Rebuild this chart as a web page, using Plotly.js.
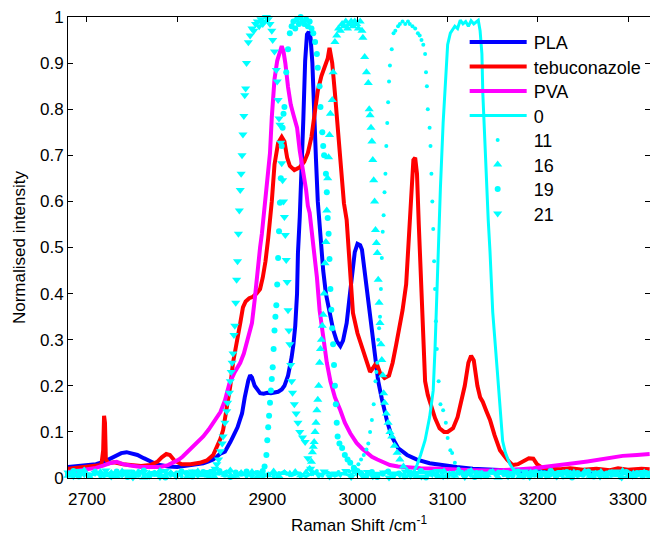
<!DOCTYPE html>
<html><head><meta charset="utf-8">
<script src="https://cdn.plot.ly/plotly-3.0.1.min.js"></script>
<style>html,body{margin:0;padding:0;background:#fff}#chart{width:650px;height:535px}</style>
</head><body><div id="chart"></div>
<script>
// ---- categories / labels ----
const seriesNames = ['PLA','tebuconazole','PVA','0','11','16','19','21'];
const xTickVals = [2700,2800,2900,3000,3100,3200,3300];
const yTickVals = [0,0.1,0.2,0.3,0.4,0.5,0.6,0.7,0.8,0.9,1];
const yTickText = ['0','0.1','0.2','0.3','0.4','0.5','0.6','0.7','0.8','0.9','1'];

// ---- spectra: [Raman shift, normalised intensity] ----
const pla = [[2679,0.024],[2690,0.026],[2700,0.027],[2710,0.03],[2720,0.036],[2727,0.043],[2733,0.05],[2738,0.054],[2744,0.056],[2750,0.053],[2756,0.05],[2763,0.043],[2770,0.036],[2776,0.031],[2781,0.028],[2790,0.025],[2800,0.024],[2810,0.026],[2818,0.028],[2824,0.03],[2829,0.032],[2835,0.036],[2840,0.04],[2844,0.046],[2848,0.053],[2853,0.057],[2856,0.066],[2859,0.078],[2862,0.09],[2865,0.1],[2867,0.11],[2870,0.128],[2872,0.14],[2875,0.175],[2877,0.198],[2879,0.212],[2881,0.223],[2883,0.218],[2886,0.2],[2889,0.19],[2892,0.184],[2896,0.183],[2900,0.185],[2904,0.184],[2908,0.186],[2912,0.187],[2916,0.192],[2919,0.2],[2923,0.222],[2925,0.24],[2927,0.262],[2929,0.29],[2931,0.33],[2933,0.4],[2934,0.488],[2936,0.566],[2938,0.653],[2940,0.78],[2942,0.905],[2944,0.962],[2946,0.968],[2948,0.955],[2950,0.9],[2951,0.83],[2952,0.78],[2954,0.69],[2956,0.6],[2958,0.54],[2960,0.49],[2962,0.45],[2965,0.4],[2968,0.368],[2970,0.352],[2973,0.322],[2977,0.297],[2981,0.286],[2984,0.298],[2988,0.336],[2992,0.405],[2995,0.458],[2997,0.49],[3000,0.508],[3003,0.505],[3005,0.495],[3008,0.445],[3012,0.38],[3016,0.314],[3019,0.262],[3023,0.21],[3027,0.172],[3030,0.145],[3033,0.122],[3038,0.09],[3045,0.065],[3055,0.05],[3066,0.04],[3080,0.032],[3092,0.028],[3110,0.024],[3128,0.02],[3155,0.017],[3180,0.015],[3210,0.014],[3240,0.013],[3270,0.012],[3300,0.012],[3324,0.011]];

const tebuconazole = [[2679,0.02],[2690,0.022],[2700,0.024],[2710,0.026],[2716,0.028],[2718,0.06],[2719,0.135],[2720,0.12],[2721,0.04],[2724,0.032],[2730,0.034],[2740,0.03],[2750,0.028],[2760,0.026],[2770,0.028],[2778,0.035],[2783,0.045],[2788,0.052],[2792,0.05],[2797,0.038],[2805,0.03],[2815,0.03],[2825,0.033],[2833,0.038],[2840,0.05],[2844,0.066],[2848,0.085],[2851,0.104],[2854,0.14],[2856,0.17],[2859,0.2],[2862,0.25],[2866,0.3],[2870,0.336],[2873,0.37],[2876,0.383],[2880,0.39],[2884,0.393],[2888,0.4],[2892,0.41],[2895,0.435],[2898,0.47],[2901,0.52],[2903,0.575],[2905,0.6],[2908,0.68],[2912,0.727],[2916,0.74],[2919,0.73],[2922,0.695],[2925,0.677],[2930,0.668],[2936,0.674],[2941,0.686],[2945,0.705],[2949,0.74],[2953,0.8],[2956,0.84],[2960,0.872],[2964,0.895],[2967,0.91],[2969,0.933],[2970,0.925],[2972,0.9],[2975,0.835],[2978,0.76],[2980,0.705],[2983,0.653],[2985,0.596],[2988,0.56],[2990,0.495],[2992,0.423],[2995,0.358],[3000,0.314],[3006,0.278],[3011,0.242],[3014,0.23],[3017,0.238],[3021,0.25],[3025,0.228],[3030,0.217],[3035,0.222],[3039,0.25],[3043,0.29],[3047,0.328],[3050,0.364],[3054,0.42],[3057,0.53],[3060,0.6],[3062,0.69],[3064,0.695],[3066,0.66],[3068,0.55],[3070,0.44],[3072,0.33],[3075,0.21],[3078,0.18],[3081,0.16],[3086,0.13],[3091,0.108],[3096,0.1],[3100,0.1],[3106,0.108],[3111,0.132],[3116,0.17],[3119,0.2],[3123,0.25],[3126,0.265],[3129,0.255],[3133,0.2],[3136,0.175],[3139,0.165],[3143,0.145],[3147,0.126],[3152,0.093],[3158,0.06],[3166,0.04],[3172,0.028],[3178,0.03],[3184,0.036],[3190,0.043],[3195,0.042],[3199,0.03],[3205,0.022],[3212,0.02],[3225,0.019],[3236,0.021],[3250,0.018],[3265,0.02],[3280,0.017],[3289,0.021],[3300,0.018],[3315,0.02],[3324,0.019]];

const pva = [[2679,0.013],[2690,0.016],[2700,0.019],[2710,0.022],[2718,0.027],[2725,0.032],[2733,0.035],[2740,0.03],[2748,0.027],[2760,0.024],[2770,0.024],[2781,0.024],[2790,0.028],[2796,0.033],[2802,0.04],[2806,0.046],[2812,0.057],[2818,0.07],[2823,0.08],[2829,0.09],[2835,0.105],[2840,0.12],[2844,0.13],[2848,0.143],[2853,0.168],[2858,0.205],[2864,0.23],[2870,0.25],[2874,0.27],[2877,0.293],[2880,0.315],[2883,0.336],[2886,0.386],[2889,0.45],[2892,0.5],[2894,0.53],[2896,0.57],[2899,0.62],[2901,0.66],[2903,0.705],[2905,0.783],[2908,0.865],[2911,0.905],[2913,0.92],[2916,0.937],[2918,0.925],[2920,0.9],[2923,0.848],[2926,0.81],[2929,0.788],[2933,0.76],[2936,0.71],[2940,0.665],[2943,0.625],[2945,0.59],[2947,0.575],[2951,0.505],[2955,0.436],[2958,0.364],[2962,0.3],[2966,0.25],[2970,0.21],[2975,0.175],[2981,0.147],[2986,0.12],[2992,0.097],[2999,0.076],[3005,0.064],[3011,0.054],[3016,0.046],[3022,0.04],[3029,0.033],[3036,0.028],[3045,0.025],[3055,0.023],[3070,0.021],[3092,0.02],[3110,0.018],[3128,0.017],[3150,0.016],[3166,0.017],[3180,0.019],[3195,0.021],[3210,0.024],[3225,0.028],[3240,0.032],[3255,0.036],[3269,0.04],[3282,0.044],[3294,0.048],[3310,0.05],[3324,0.052]];

const filter0 = [[2679,0.012],[2687,0.006],[2695,0.014],[2703,0.004],[2711,0.011],[2719,0.003],[2727,0.013],[2735,0.006],[2743,0.01],[2751,0.002],[2759,0.012],[2767,0.007],[2775,0.014],[2783,0.005],[2791,0.01],[2799,0.003],[2807,0.012],[2815,0.006],[2823,0.013],[2831,0.004],[2839,0.01],[2847,0.008],[2855,0.015],[2863,0.003],[2871,0.011],[2879,0.006],[2887,0.013],[2895,0.002],[2903,0.01],[2911,0.007],[2919,0.014],[2927,0.005],[2935,0.011],[2943,0.003],[2951,0.012],[2959,0.008],[2967,0.013],[2975,0.004],[2983,0.01],[2991,0.006],[2999,0.014],[3007,0.002],[3015,0.011],[3023,0.007],[3031,0.013],[3039,0.005],[3047,0.01],[3055,0.003],[3062,0.012],[3066,0.028],[3070,0.05],[3075,0.082],[3080,0.132],[3082,0.16],[3084,0.19],[3086,0.28],[3088,0.41],[3090,0.54],[3092,0.63],[3095,0.77],[3098,0.87],[3100,0.94],[3103,0.965],[3105,0.972],[3108,0.98],[3111,0.975],[3114,0.993],[3117,0.985],[3120,0.99],[3123,0.98],[3126,0.992],[3129,0.985],[3132,0.99],[3134,0.993],[3136,0.97],[3138,0.92],[3139,0.835],[3141,0.74],[3143,0.64],[3145,0.56],[3147,0.49],[3150,0.36],[3155,0.234],[3159,0.126],[3161,0.08],[3164,0.055],[3169,0.03],[3174,0.015],[3180,0.006],[3188,0.013],[3196,0.004],[3204,0.011],[3212,0.002],[3220,0.012],[3228,0.007],[3236,0.014],[3244,0.003],[3252,0.01],[3260,0.006],[3268,0.013],[3276,0.004],[3284,0.011],[3292,0.007],[3300,0.014],[3308,0.002],[3316,0.01],[3324,0.006]];

const filter11 = [[2679,0.009],[2685,0.014],[2691,0.004],[2697,0.011],[2703,0.007],[2709,0.016],[2715,0.002],[2721,0.012],[2727,0.008],[2733,0.005],[2739,0.013],[2745,0.01],[2751,0.003],[2757,0.015],[2763,0.006],[2769,0.011],[2775,0.009],[2781,0.001],[2787,0.013],[2793,0.007],[2799,0.012],[2805,0.004],[2811,0.01],[2817,0.014],[2823,0.006],[2829,0.011],[2835,0.002],[2841,0.009],[2847,0.013],[2853,0.008],[2859,0.015],[2865,0.005],[2871,0.01],[2877,0.003],[2883,0.012],[2889,0.007],[2895,0.014],[2901,0.009],[2907,0.004],[2913,0.011],[2919,0.013],[2925,0.006],[2931,0.01],[2937,0.002],[2943,0.012],[2949,0.008],[2955,0.015],[2961,0.005],[2967,0.011],[2973,0.007],[2979,0.013],[2985,0.01],[2991,0.014],[2995,0.016],[2998,0.02],[3001,0.03],[3004,0.04],[3007,0.05],[3010,0.062],[3012,0.075],[3014,0.1],[3016,0.126],[3018,0.16],[3020,0.21],[3021,0.23],[3022,0.25],[3023,0.3],[3024,0.325],[3025,0.35],[3026,0.41],[3027,0.477],[3028,0.534],[3029,0.57],[3030,0.62],[3031,0.66],[3032,0.72],[3033,0.77],[3034,0.815],[3035,0.86],[3036,0.895],[3038,0.93],[3040,0.965],[3042,0.97],[3045,0.98],[3047,0.985],[3050,0.99],[3053,0.985],[3056,0.99],[3058,0.985],[3061,0.98],[3064,0.975],[3067,0.965],[3069,0.96],[3071,0.95],[3073,0.94],[3075,0.92],[3076,0.88],[3077,0.85],[3078,0.8],[3080,0.76],[3081,0.72],[3082,0.66],[3083,0.6],[3084,0.54],[3085,0.47],[3086,0.41],[3087,0.34],[3088,0.28],[3090,0.21],[3092,0.16],[3095,0.147],[3098,0.12],[3100,0.087],[3103,0.06],[3105,0.054],[3108,0.033],[3112,0.02],[3116,0.012],[3120,0.01],[3126,0.005],[3132,0.013],[3138,0.008],[3144,0.002],[3150,0.011],[3156,0.014],[3162,0.006],[3168,0.009],[3174,0.012],[3180,0.003],[3186,0.01],[3192,0.007],[3198,0.015],[3204,0.004],[3210,0.011],[3216,0.008],[3222,0.013],[3228,0.001],[3234,0.009],[3240,0.012],[3246,0.006],[3252,0.014],[3258,0.003],[3264,0.01],[3270,0.007],[3276,0.012],[3282,0.005],[3288,0.011],[3294,0.009],[3300,0.013],[3306,0.002],[3312,0.01],[3318,0.006],[3324,0.012]];

const filter16 = [[2679,0.005],[2685,0.012],[2691,0.008],[2697,0.016],[2703,0.002],[2709,0.01],[2715,0.013],[2721,0.006],[2727,0.011],[2733,0.003],[2739,0.014],[2745,0.009],[2751,0.005],[2757,0.012],[2763,0.001],[2769,0.01],[2775,0.007],[2781,0.015],[2787,0.004],[2793,0.011],[2799,0.008],[2805,0.013],[2811,0.002],[2817,0.009],[2823,0.014],[2829,0.006],[2835,0.01],[2841,0.003],[2847,0.012],[2853,0.007],[2859,0.016],[2865,0.005],[2871,0.011],[2877,0.008],[2883,0.013],[2889,0.002],[2895,0.01],[2901,0.006],[2907,0.014],[2913,0.004],[2919,0.011],[2925,0.009],[2931,0.013],[2937,0.006],[2943,0.012],[2947,0.02],[2949,0.035],[2950,0.056],[2951,0.068],[2952,0.078],[2953,0.1],[2954,0.12],[2955,0.147],[2956,0.17],[2957,0.2],[2958,0.25],[2959,0.28],[2960,0.3],[2961,0.33],[2962,0.354],[2963,0.4],[2964,0.466],[2965,0.512],[2966,0.58],[2967,0.65],[2968,0.696],[2969,0.744],[2970,0.79],[2972,0.82],[2973,0.88],[2975,0.946],[2977,0.96],[2979,0.975],[2981,0.97],[2983,0.985],[2985,0.98],[2987,0.99],[2989,0.975],[2991,0.985],[2993,0.99],[2995,0.98],[2997,0.99],[2999,0.985],[3001,0.975],[3003,0.99],[3005,0.97],[3006,0.955],[3008,0.913],[3010,0.88],[3012,0.857],[3013,0.8],[3014,0.787],[3015,0.76],[3016,0.73],[3017,0.69],[3018,0.646],[3019,0.6],[3020,0.538],[3021,0.51],[3022,0.488],[3023,0.43],[3024,0.38],[3025,0.336],[3026,0.29],[3027,0.256],[3028,0.223],[3029,0.184],[3030,0.163],[3032,0.14],[3034,0.12],[3036,0.1],[3038,0.09],[3041,0.07],[3044,0.055],[3047,0.04],[3051,0.025],[3055,0.015],[3060,0.01],[3066,0.004],[3072,0.013],[3078,0.007],[3084,0.011],[3090,0.002],[3096,0.014],[3102,0.008],[3108,0.005],[3114,0.012],[3120,0.009],[3126,0.015],[3132,0.003],[3138,0.01],[3144,0.006],[3150,0.013],[3156,0.001],[3162,0.011],[3168,0.008],[3174,0.014],[3180,0.004],[3186,0.009],[3192,0.012],[3198,0.006],[3204,0.01],[3210,-0.002],[3216,0.013],[3222,0.007],[3228,0.011],[3234,0.003],[3240,0.012],[3246,0.008],[3252,0.014],[3258,0.005],[3264,0.009],[3270,0.013],[3276,0.002],[3282,0.011],[3288,0.006],[3294,0.015],[3300,0.004],[3306,0.01],[3312,0.008],[3318,0.012],[3324,0.005]];

const filter19 = [[2679,0.008],[2685,0.015],[2691,0.003],[2697,0.011],[2703,0.006],[2709,0.013],[2715,-0.001],[2721,0.01],[2727,0.005],[2733,0.014],[2739,0.008],[2745,0.002],[2751,0.012],[2757,0.007],[2763,0.016],[2769,0.004],[2775,0.01],[2781,0.013],[2787,0.001],[2793,0.009],[2799,0.006],[2805,0.014],[2811,0.011],[2817,0.003],[2823,0.008],[2829,0.013],[2835,0.005],[2841,0.01],[2847,0.015],[2853,0.007],[2859,0.002],[2865,0.012],[2871,0.009],[2877,0.014],[2883,0.006],[2889,0.011],[2893,0.01],[2895,0.015],[2897,0.025],[2899,0.05],[2900,0.082],[2901,0.11],[2902,0.135],[2903,0.163],[2904,0.19],[2905,0.215],[2906,0.24],[2907,0.28],[2908,0.32],[2909,0.35],[2910,0.375],[2911,0.42],[2912,0.477],[2913,0.535],[2914,0.597],[2915,0.65],[2916,0.72],[2917,0.76],[2918,0.79],[2919,0.805],[2921,0.88],[2923,0.93],[2925,0.965],[2927,0.98],[2929,0.99],[2931,0.975],[2933,0.995],[2935,0.985],[2937,1.0],[2939,0.99],[2941,0.985],[2943,0.995],[2945,0.98],[2947,0.99],[2949,0.975],[2951,0.965],[2953,0.946],[2955,0.92],[2956,0.89],[2958,0.85],[2959,0.805],[2961,0.75],[2962,0.72],[2963,0.7],[2965,0.66],[2966,0.62],[2967,0.564],[2968,0.53],[2969,0.475],[2970,0.41],[2971,0.365],[2972,0.325],[2973,0.29],[2974,0.245],[2975,0.2],[2976,0.16],[2977,0.12],[2978,0.09],[2980,0.075],[2983,0.065],[2986,0.05],[2989,0.04],[2992,0.033],[2996,0.022],[3000,0.015],[3004,0.011],[3010,0.005],[3016,0.013],[3022,0.002],[3028,0.009],[3034,0.014],[3040,0.006],[3046,0.01],[3052,0.003],[3058,0.012],[3064,0.008],[3070,0.015],[3076,0.001],[3082,0.011],[3088,0.006],[3094,0.013],[3100,0.004],[3106,0.009],[3112,0.012],[3118,0.007],[3124,0.014],[3130,0.002],[3136,0.01],[3142,0.005],[3148,0.013],[3154,0.008],[3160,-0.002],[3166,0.011],[3172,0.006],[3178,0.014],[3184,0.003],[3190,0.009],[3196,0.012],[3202,0.005],[3208,0.01],[3214,0.015],[3220,0.004],[3226,0.008],[3232,0.013],[3238,0.001],[3244,0.011],[3250,0.007],[3256,0.014],[3262,0.003],[3268,0.01],[3274,0.006],[3280,0.012],[3286,0.009],[3292,0.002],[3298,0.013],[3304,0.007],[3310,0.011],[3316,0.004],[3322,0.01]];

const filter21 = [[2679,0.012],[2685,0.004],[2691,0.015],[2697,0.008],[2703,-0.002],[2709,0.011],[2715,0.006],[2721,0.016],[2727,0.003],[2733,0.01],[2739,0.007],[2745,0.014],[2751,0.001],[2757,0.009],[2763,0.013],[2769,0.005],[2775,0.011],[2781,0.002],[2787,0.015],[2793,0.008],[2799,0.004],[2805,0.012],[2811,0.007],[2817,0.014],[2823,0.006],[2829,0.011],[2835,0.013],[2840,0.015],[2842,0.02],[2844,0.03],[2846,0.04],[2848,0.058],[2850,0.075],[2851,0.09],[2853,0.12],[2855,0.145],[2856,0.163],[2858,0.185],[2859,0.21],[2860,0.23],[2861,0.25],[2862,0.27],[2863,0.31],[2864,0.33],[2865,0.38],[2866,0.43],[2867,0.47],[2868,0.53],[2869,0.58],[2870,0.625],[2871,0.66],[2872,0.7],[2873,0.745],[2874,0.785],[2875,0.83],[2876,0.845],[2877,0.9],[2879,0.945],[2881,0.96],[2883,0.975],[2885,0.97],[2887,0.985],[2889,0.99],[2891,0.98],[2893,0.995],[2895,0.985],[2897,0.99],[2899,1.0],[2901,0.995],[2903,0.985],[2905,0.97],[2906,0.95],[2908,0.925],[2910,0.885],[2911,0.86],[2912,0.82],[2913,0.78],[2914,0.766],[2915,0.727],[2916,0.683],[2917,0.646],[2918,0.6],[2919,0.566],[2920,0.527],[2921,0.473],[2922,0.425],[2923,0.364],[2924,0.32],[2925,0.29],[2926,0.245],[2927,0.21],[2928,0.185],[2930,0.16],[2932,0.14],[2934,0.12],[2936,0.1],[2939,0.088],[2942,0.078],[2945,0.043],[2948,0.02],[2951,0.012],[2957,0.006],[2963,0.014],[2969,0.003],[2975,0.01],[2981,0.008],[2987,0.015],[2993,0.002],[2999,0.011],[3005,0.006],[3011,0.013],[3017,0.004],[3023,0.009],[3029,0.012],[3035,0.001],[3041,0.01],[3047,0.007],[3053,0.014],[3059,0.005],[3065,0.011],[3071,0.003],[3077,0.012],[3083,0.008],[3089,0.015],[3095,0.004],[3101,0.01],[3107,0.006],[3113,0.013],[3119,0.002],[3125,0.009],[3131,0.012],[3137,0.005],[3143,0.01],[3149,-0.003],[3155,0.008],[3161,0.013],[3167,0.004],[3173,0.011],[3179,0.007],[3185,0.014],[3191,0.002],[3197,0.009],[3203,0.012],[3209,0.005],[3215,0.01],[3221,0.003],[3227,0.013],[3233,0.007],[3239,0.011],[3245,-0.004],[3251,0.009],[3257,0.006],[3263,0.012],[3269,0.003],[3275,0.01],[3281,0.008],[3287,0.014],[3293,0.001],[3299,0.011],[3305,0.005],[3311,0.009],[3317,0.013],[3323,0.006]];

// ---- build traces ----
const FONT = 'Liberation Sans, Arial, sans-serif';
const xs = d => d.map(p => p[0]);
const ys = d => d.map(p => p[1]);

function lineTrace(d, name, color, width) {
  return {x: xs(d), y: ys(d), name: name, type: 'scatter', mode: 'lines',
          line: {color: color, width: width}};
}
function markerTrace(d, name, symbol, size) {
  return {x: xs(d), y: ys(d), name: name, type: 'scatter', mode: 'markers',
          cliponaxis: false,
          marker: {color: '#00ffff', symbol: symbol, size: size, line: {width: 0}}};
}

const traces = [
  lineTrace(pla, seriesNames[0], '#0000ff', 4),
  lineTrace(tebuconazole, seriesNames[1], '#ff0000', 4),
  lineTrace(pva, seriesNames[2], '#ff00ff', 4),
  lineTrace(filter0, seriesNames[3], '#00ffff', 3),
  markerTrace(filter11, seriesNames[4], 'circle', 4),
  markerTrace(filter16, seriesNames[5], 'triangle-up', 8),
  markerTrace(filter19, seriesNames[6], 'circle', 6),
  markerTrace(filter21, seriesNames[7], 'triangle-down', 8)
];

const axisCommon = {
  showline: true, linecolor: '#000', linewidth: 1, mirror: 'ticks',
  ticks: 'inside', ticklen: 5, tickwidth: 1, tickcolor: '#000',
  showgrid: false, zeroline: false,
  tickfont: {family: FONT, size: 17, color: '#000'}
};

const layout = {
  width: 650, height: 535,
  margin: {l: 68, r: 0, t: 17, b: 57, pad: 0},
  paper_bgcolor: '#fff', plot_bgcolor: '#fff',
  showlegend: true,
  hovermode: false,
  xaxis: Object.assign({}, axisCommon, {
    range: [2679, 3324.4], tickmode: 'array', tickvals: xTickVals,
    ticklabelstandoff: 6,
    title: {text: 'Raman Shift /cm<sup>-1</sup>', font: {family: FONT, size: 17, color: '#000'}, standoff: 13}
  }),
  yaxis: Object.assign({}, axisCommon, {
    range: [0, 1], tickmode: 'array', tickvals: yTickVals, ticktext: yTickText,
    title: {text: 'Normalised intensity', font: {family: FONT, size: 17, color: '#000'}, standoff: 10}
  }),
  legend: {
    x: 0.685, xanchor: 'left', y: 0.985, yanchor: 'top',
    bgcolor: 'rgba(0,0,0,0)', borderwidth: 0,
    font: {family: FONT, size: 18, color: '#000'},
    itemwidth: 57, tracegroupgap: 0
  }
};

Plotly.newPlot('chart', traces, layout, {staticPlot: true, displayModeBar: false}).then(gd => {
  // MATLAB-style legend: longer line samples, centred symbols, tighter rows
  const items = gd.querySelectorAll('.legend .traces');
  let x0 = null, y0 = null;
  items.forEach((t, i) => {
    const m = /translate\(\s*([-\d.e]+)[\s,]+([-\d.e]+)\s*\)/.exec(t.getAttribute('transform') || '');
    if (m) {
      if (x0 === null) { x0 = parseFloat(m[1]); y0 = parseFloat(m[2]); }
      t.setAttribute('transform', 'translate(' + x0 + ',' + (y0 + i * 24.5) + ')');
    }
    t.querySelectorAll('.legendlines path').forEach(p => p.setAttribute('d', 'M3,0h57'));
    t.querySelectorAll('.legendpoints path').forEach(p => p.setAttribute('transform', 'translate(31,0)'));
  });
});
</script>
</body></html>
